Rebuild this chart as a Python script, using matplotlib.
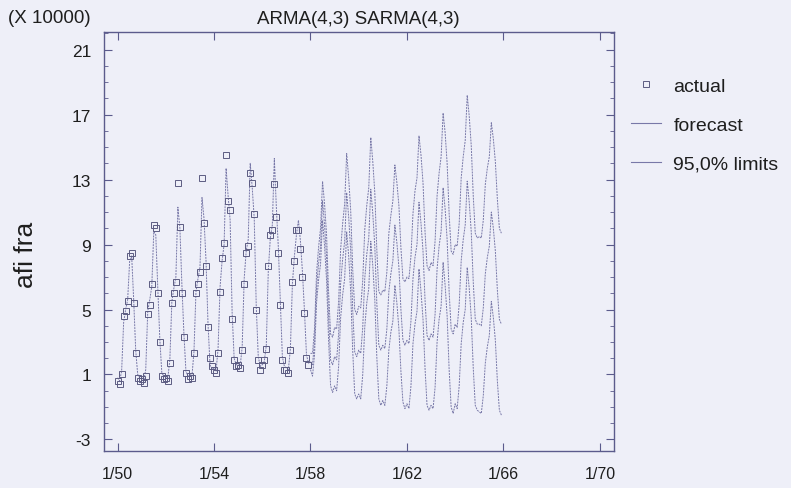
import numpy as np
import matplotlib.pyplot as plt
from matplotlib.ticker import MultipleLocator, FixedLocator
from matplotlib.lines import Line2D

plt.rcParams['font.family'] = ['Liberation Sans', 'DejaVu Sans']
plt.rcParams['axes.unicode_minus'] = False

# monthly values, units of 10000
actual_by_year = {
    1950: [0.6, 0.4, 1.0, 4.6, 4.9, 5.5, 8.3, 8.5, 5.4, 2.3, 0.8, 0.6],
    1951: [0.7, 0.5, 0.9, 4.7, 5.3, 6.6, 10.2, 10.0, 6.0, 3.0, 0.9, 0.7],
    1952: [0.8, 0.6, 1.7, 5.4, 6.0, 6.7, 12.8, 10.1, 6.0, 3.3, 1.1, 0.7],
    1953: [0.9, 0.8, 2.3, 6.0, 6.6, 7.3, 13.1, 10.3, 7.7, 3.9, 2.0, 1.5],
    1954: [1.3, 1.1, 2.3, 6.1, 8.2, 9.1, 14.5, 11.7, 11.1, 4.4, 1.9, 1.5],
    1955: [1.6, 1.4, 2.5, 6.6, 8.5, 8.9, 13.4, 12.8, 10.9, 5.0, 1.9, 1.3],
    1956: [1.6, 1.9, 2.6, 7.7, 9.6, 9.9, 12.7, 10.7, 8.5, 5.3, 1.9, 1.3],
    1957: [1.3, 1.1, 2.5, 6.7, 8.0, 9.9, 9.9, 8.7, 7.0, 4.8, 2.0, 1.6],
}

fitted_by_year = {
    1950: [0.8, 0.6, 1.2, 4.2, 5.0, 5.6, 8.0, 8.3, 5.6, 2.5, 1.0, 0.8],
    1951: [0.8, 0.6, 1.3, 4.9, 5.6, 6.4, 9.8, 9.6, 6.3, 3.2, 1.1, 0.9],
    1952: [0.9, 0.8, 1.9, 5.5, 6.3, 7.0, 11.3, 10.0, 6.5, 3.5, 1.2, 0.9],
    1953: [1.0, 0.9, 2.4, 6.1, 6.9, 7.6, 11.9, 10.6, 8.0, 4.1, 1.6, 1.3],
    1954: [1.4, 1.2, 2.6, 6.4, 8.0, 9.0, 13.7, 12.0, 10.5, 4.8, 2.0, 1.6],
    1955: [1.6, 1.5, 2.7, 6.9, 8.6, 9.3, 14.0, 12.5, 10.6, 5.2, 2.1, 1.5],
    1956: [1.6, 1.8, 2.8, 7.4, 9.4, 10.2, 14.3, 11.3, 8.8, 5.4, 2.1, 1.5],
    1957: [1.4, 1.3, 2.6, 6.6, 8.3, 9.6, 10.5, 9.2, 7.3, 4.9, 2.2, 1.7],
}

forecast_by_year = {
    1958: [1.8, 1.6, 3.0, 6.3, 7.8, 8.9, 11.7, 10.2, 8.2, 4.6, 1.9, 1.6],
    1959: [2.1, 1.9, 3.5, 6.6, 8.1, 9.2, 12.2, 10.7, 8.6, 5.0, 2.4, 2.1],
    1960: [2.5, 2.3, 3.9, 6.9, 8.4, 9.4, 12.4, 10.9, 8.9, 5.4, 2.8, 2.5],
    1961: [2.8, 2.6, 3.8, 6.1, 7.2, 8.0, 10.2, 9.1, 7.6, 5.0, 3.1, 2.8],
    1962: [3.1, 2.9, 4.3, 6.9, 8.2, 9.0, 11.6, 10.3, 8.6, 5.6, 3.4, 3.1],
    1963: [3.5, 3.3, 4.7, 7.5, 8.9, 9.8, 12.5, 11.2, 9.3, 6.1, 3.8, 3.5],
    1964: [4.1, 3.9, 5.3, 8.0, 9.3, 10.2, 12.9, 11.6, 9.8, 6.7, 4.4, 4.1],
    1965: [4.1, 4.0, 5.1, 7.2, 8.2, 8.9, 11.0, 10.0, 8.6, 6.2, 4.4, 4.1],
}

upper_by_year = {
    1958: [2.3, 2.3, 3.8, 7.2, 8.8, 10.0, 12.9, 11.5, 9.6, 6.1, 3.5, 3.3],
    1959: [3.9, 3.8, 5.5, 8.7, 10.3, 11.5, 14.6, 13.1, 11.1, 7.5, 5.0, 4.7],
    1960: [5.2, 5.1, 6.8, 9.9, 11.4, 12.5, 15.6, 14.1, 12.2, 8.7, 6.1, 5.9],
    1961: [6.2, 6.1, 7.3, 9.7, 10.8, 11.7, 13.9, 12.8, 11.4, 8.8, 6.9, 6.7],
    1962: [7.0, 6.9, 8.3, 10.9, 12.3, 13.1, 15.7, 14.5, 12.8, 9.8, 7.7, 7.4],
    1963: [7.9, 7.7, 9.2, 12.0, 13.4, 14.4, 17.1, 15.9, 14.0, 10.9, 8.6, 8.4],
    1964: [9.0, 8.9, 10.3, 13.1, 14.4, 15.4, 18.2, 16.9, 15.1, 12.0, 9.7, 9.4],
    1965: [9.5, 9.4, 10.5, 12.7, 13.7, 14.4, 16.5, 15.5, 14.1, 11.8, 10.0, 9.7],
}

lower_by_year = {
    1958: [1.3, 0.9, 2.2, 5.4, 6.8, 7.8, 10.5, 8.9, 6.8, 3.1, 0.3, -0.1],
    1959: [0.3, 0.0, 1.5, 4.5, 5.9, 6.9, 9.8, 8.3, 6.1, 2.5, -0.2, -0.5],
    1960: [-0.2, -0.5, 1.0, 3.9, 5.4, 6.3, 9.2, 7.7, 5.6, 2.1, -0.5, -0.9],
    1961: [-0.6, -0.9, 0.3, 2.5, 3.6, 4.3, 6.5, 5.4, 3.8, 1.2, -0.7, -1.1],
    1962: [-0.8, -1.1, 0.3, 2.9, 4.1, 4.9, 7.5, 6.1, 4.4, 1.4, -0.9, -1.2],
    1963: [-0.9, -1.1, 0.2, 3.0, 4.4, 5.2, 7.9, 6.5, 4.6, 1.3, -1.0, -1.4],
    1964: [-0.8, -1.1, 0.3, 2.9, 4.2, 5.0, 7.6, 6.3, 4.5, 1.4, -0.9, -1.2],
    1965: [-1.3, -1.4, -0.3, 1.7, 2.7, 3.4, 5.5, 4.5, 3.1, 0.6, -1.2, -1.5],
}

x_ticks = [1950, 1954, 1958, 1962, 1966, 1970]
x_labels = ['1/50', '1/54', '1/58', '1/62', '1/66', '1/70']
y_ticks = [-3, 1, 5, 9, 13, 17, 21]


def months(d):
    t, v = [], []
    for yr in sorted(d):
        for m, val in enumerate(d[yr]):
            t.append(yr + m / 12)
            v.append(val)
    return np.array(t), np.array(v)


t_act, v_act = months(actual_by_year)
t_fit, v_fit = months(fitted_by_year)
t_fc, v_fc = months(forecast_by_year)
t_up, v_up = months(upper_by_year)
t_lo, v_lo = months(lower_by_year)

t_line = np.concatenate([t_fit, t_fc])
v_line = np.concatenate([v_fit, v_fc])

bg = '#eeeff8'
ink = '#5b5b8c'
line_col = '#7878a8'
txt = '#1e1e1e'

fig = plt.figure(figsize=(7.91, 4.89), dpi=100, facecolor=bg)
ax = fig.add_axes([0.131, 0.076, 0.645, 0.857], facecolor=bg)

ax.plot(t_line, v_line, color=line_col, lw=0.7, ls=(0, (2, 1)))
ax.plot(t_up, v_up, color=line_col, lw=0.7, ls=(0, (2, 1)))
ax.plot(t_lo, v_lo, color=line_col, lw=0.7, ls=(0, (2, 1)))
ax.plot(t_act, v_act, ls='none', marker='s', ms=4.2, mfc='none',
        mec='#5c5c82', mew=0.7)

ax.set_xlim(1949.42, 1970.58)
ax.set_ylim(-3.7, 22.1)

ax.xaxis.set_major_locator(FixedLocator(x_ticks))
ax.set_xticklabels(x_labels)
ax.yaxis.set_major_locator(FixedLocator(y_ticks))
ax.yaxis.set_minor_locator(MultipleLocator(1))

ax.tick_params(axis='both', which='both', direction='in', colors=ink,
               labelcolor=txt, top=True, right=True)
ax.tick_params(axis='x', which='major', length=6, pad=11, labelsize=11.5)
ax.tick_params(axis='y', which='major', length=6, pad=9, labelsize=12.5)
ax.tick_params(axis='y', which='minor', length=3)
for s in ax.spines.values():
    s.set_color(ink)
    s.set_linewidth(1.0)

ax.set_title('ARMA(4,3) SARMA(4,3)', fontsize=13.5, color=txt, pad=6)
ax.set_ylabel('afi fra', fontsize=19, color=txt)
ax.yaxis.set_label_coords(-0.128, 0.47)
fig.text(0.062, 0.963, '(X 10000)', fontsize=13.5, color=txt,
         ha='center', va='center')

handles = [
    Line2D([], [], ls='none', marker='s', ms=4, mfc='none', mec='#5c5c82', mew=0.7),
    Line2D([], [], color=line_col, lw=0.8),
    Line2D([], [], color=line_col, lw=0.8),
]
fig.legend(handles, ['actual', 'forecast', '95,0% limits'],
           loc='upper left', bbox_to_anchor=(0.785, 0.86), frameon=False,
           borderpad=0, fontsize=14, handlelength=1.55, handletextpad=0.65,
           labelspacing=1.1, labelcolor=txt)

fig.savefig('out.png', dpi=100, facecolor=bg)
